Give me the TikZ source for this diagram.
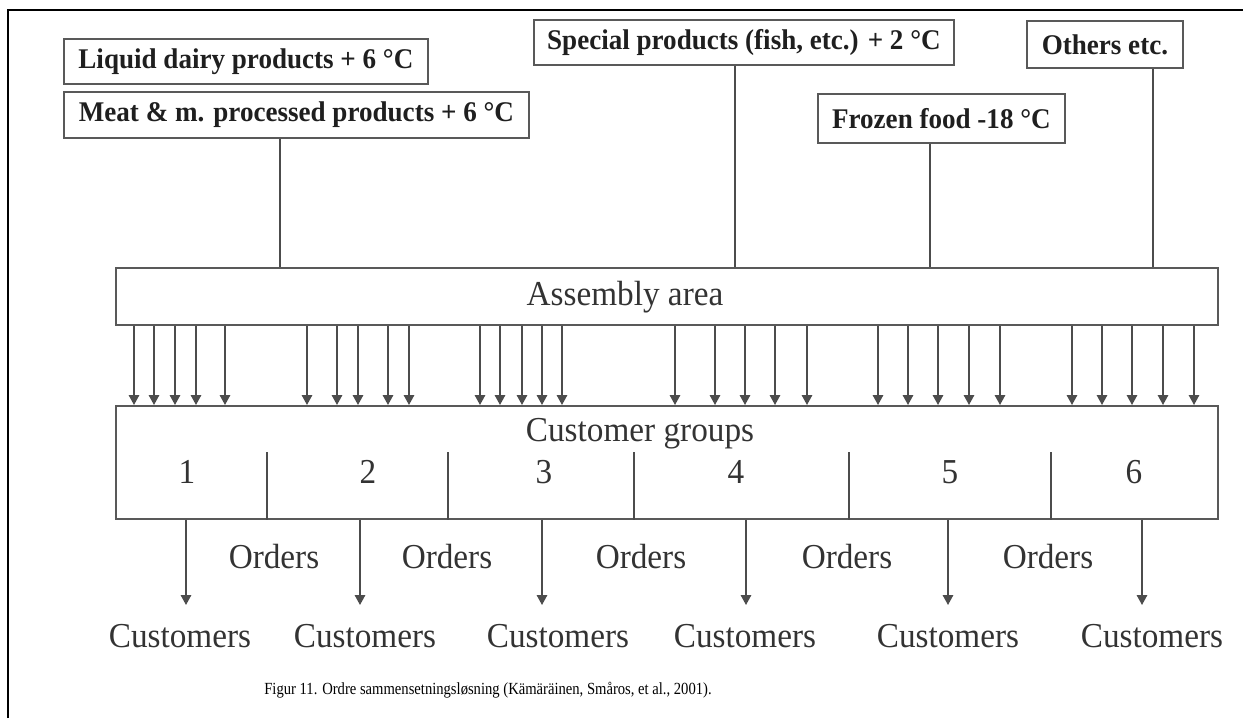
\documentclass[tikz,border=0pt]{standalone}
\usepackage{fontspec}
\setmainfont{Liberation Serif}
\newfontfamily\narrowserif[FakeStretch=0.95]{Liberation Serif}
\newfontfamily\capserif[FakeStretch=0.86]{Liberation Serif}
\usetikzlibrary{arrows.meta}
\begin{document}
\begin{tikzpicture}[x=1pt,y=-1pt,
  box/.style={draw=black!65,line width=1.8pt,inner sep=0pt,anchor=north west},
  prod/.style={box,font=\narrowserif\fontsize{28.5}{30}\selectfont\bfseries,text=black!88},
  big/.style={font=\narrowserif\fontsize{35}{38}\selectfont,text=black!80,inner sep=0pt},
  link/.style={draw=black!70,line width=1.6pt},
  feed/.style={link,-{Triangle[width=10.5pt,length=10pt]}}]
\useasboundingbox (0,0) rectangle (1243,718);

% outer frame (left and top edges)
\draw[line width=2.5pt] (8,718) -- (8,10) -- (1243,10);

% product storage areas
\node[prod,minimum width=364pt,minimum height=45pt] (liquid) at (63,38) {Liquid dairy products + 6 °C};
\node[prod,minimum width=465pt,minimum height=46pt] (meat) at (63,91) {Meat \& m. processed products + 6 °C};
\node[prod,minimum width=420pt,minimum height=45pt] (special) at (533,19) {Special products (fish, etc.) + 2 °C};
\node[prod,minimum width=156pt,minimum height=47pt] (others) at (1026,20) {Others etc.};
\node[prod,minimum width=247pt,minimum height=49pt] (frozen) at (817,93) {Frozen food -18 °C};

% assembly area
\node[box,minimum width=1102pt,minimum height=57pt] (asm) at (115,267) {};
\node[big] (asmtext) at (625,297) {Assembly area};

% customer groups
\node[box,minimum width=1102pt,minimum height=113pt] (grp) at (115,405) {};
\node[big] (grptext) at (640,434) {Customer groups};

% feeds from the storage areas
\draw[link] (280,0 |- meat.south) -- (280,0 |- asm.north);
\draw[link] (735,0 |- special.south) -- (735,0 |- asm.north);
\draw[link] (930,0 |- frozen.south) -- (930,0 |- asm.north);
\draw[link] (1153,0 |- others.south) -- (1153,0 |- asm.north);

% picks from assembly to the groups
\foreach \x in {134,154,175,196,225, 307,337,358,388,409, 480,500,522,542,562,
                675,715,745,775,807, 878,908,938,969,1000, 1072,1102,1132,1163,1194}
  \draw[feed] (\x,0 |- asm.south) -- (\x,0 |- grp.north);

% group numbers
\foreach \x/\n in {187/1,368/2,544/3,736/4,950/5,1134/6}
  \node[big] (num\n) at (\x,472) {\n};

% group dividers
\foreach \x in {267,448,634,849,1051}
  \draw[link] (\x,452) -- (\x,0 |- grp.south);

% orders
\foreach \x [count=\i] in {274,447,641,847,1048}
  \node[big] (ord\i) at (\x,557) {Orders};

% deliveries to customers
\foreach \x/\c [count=\i] in {186/180,360/365,542/558,746/745,948/948,1142/1152}{
  \node[big] (cust\i) at (\c,636) {Customers};
  \coordinate (tip\i) at (\x,605);
  \draw[feed] (\x,0 |- grp.south) -- (tip\i);
}

% caption
\node[font=\capserif\fontsize{17}{20}\selectfont,inner sep=0pt] (caption) at (488,690)
  {Figur 11. Ordre sammensetningsløsning (Kämäräinen, Småros, et al., 2001).};
\end{tikzpicture}
\end{document}
